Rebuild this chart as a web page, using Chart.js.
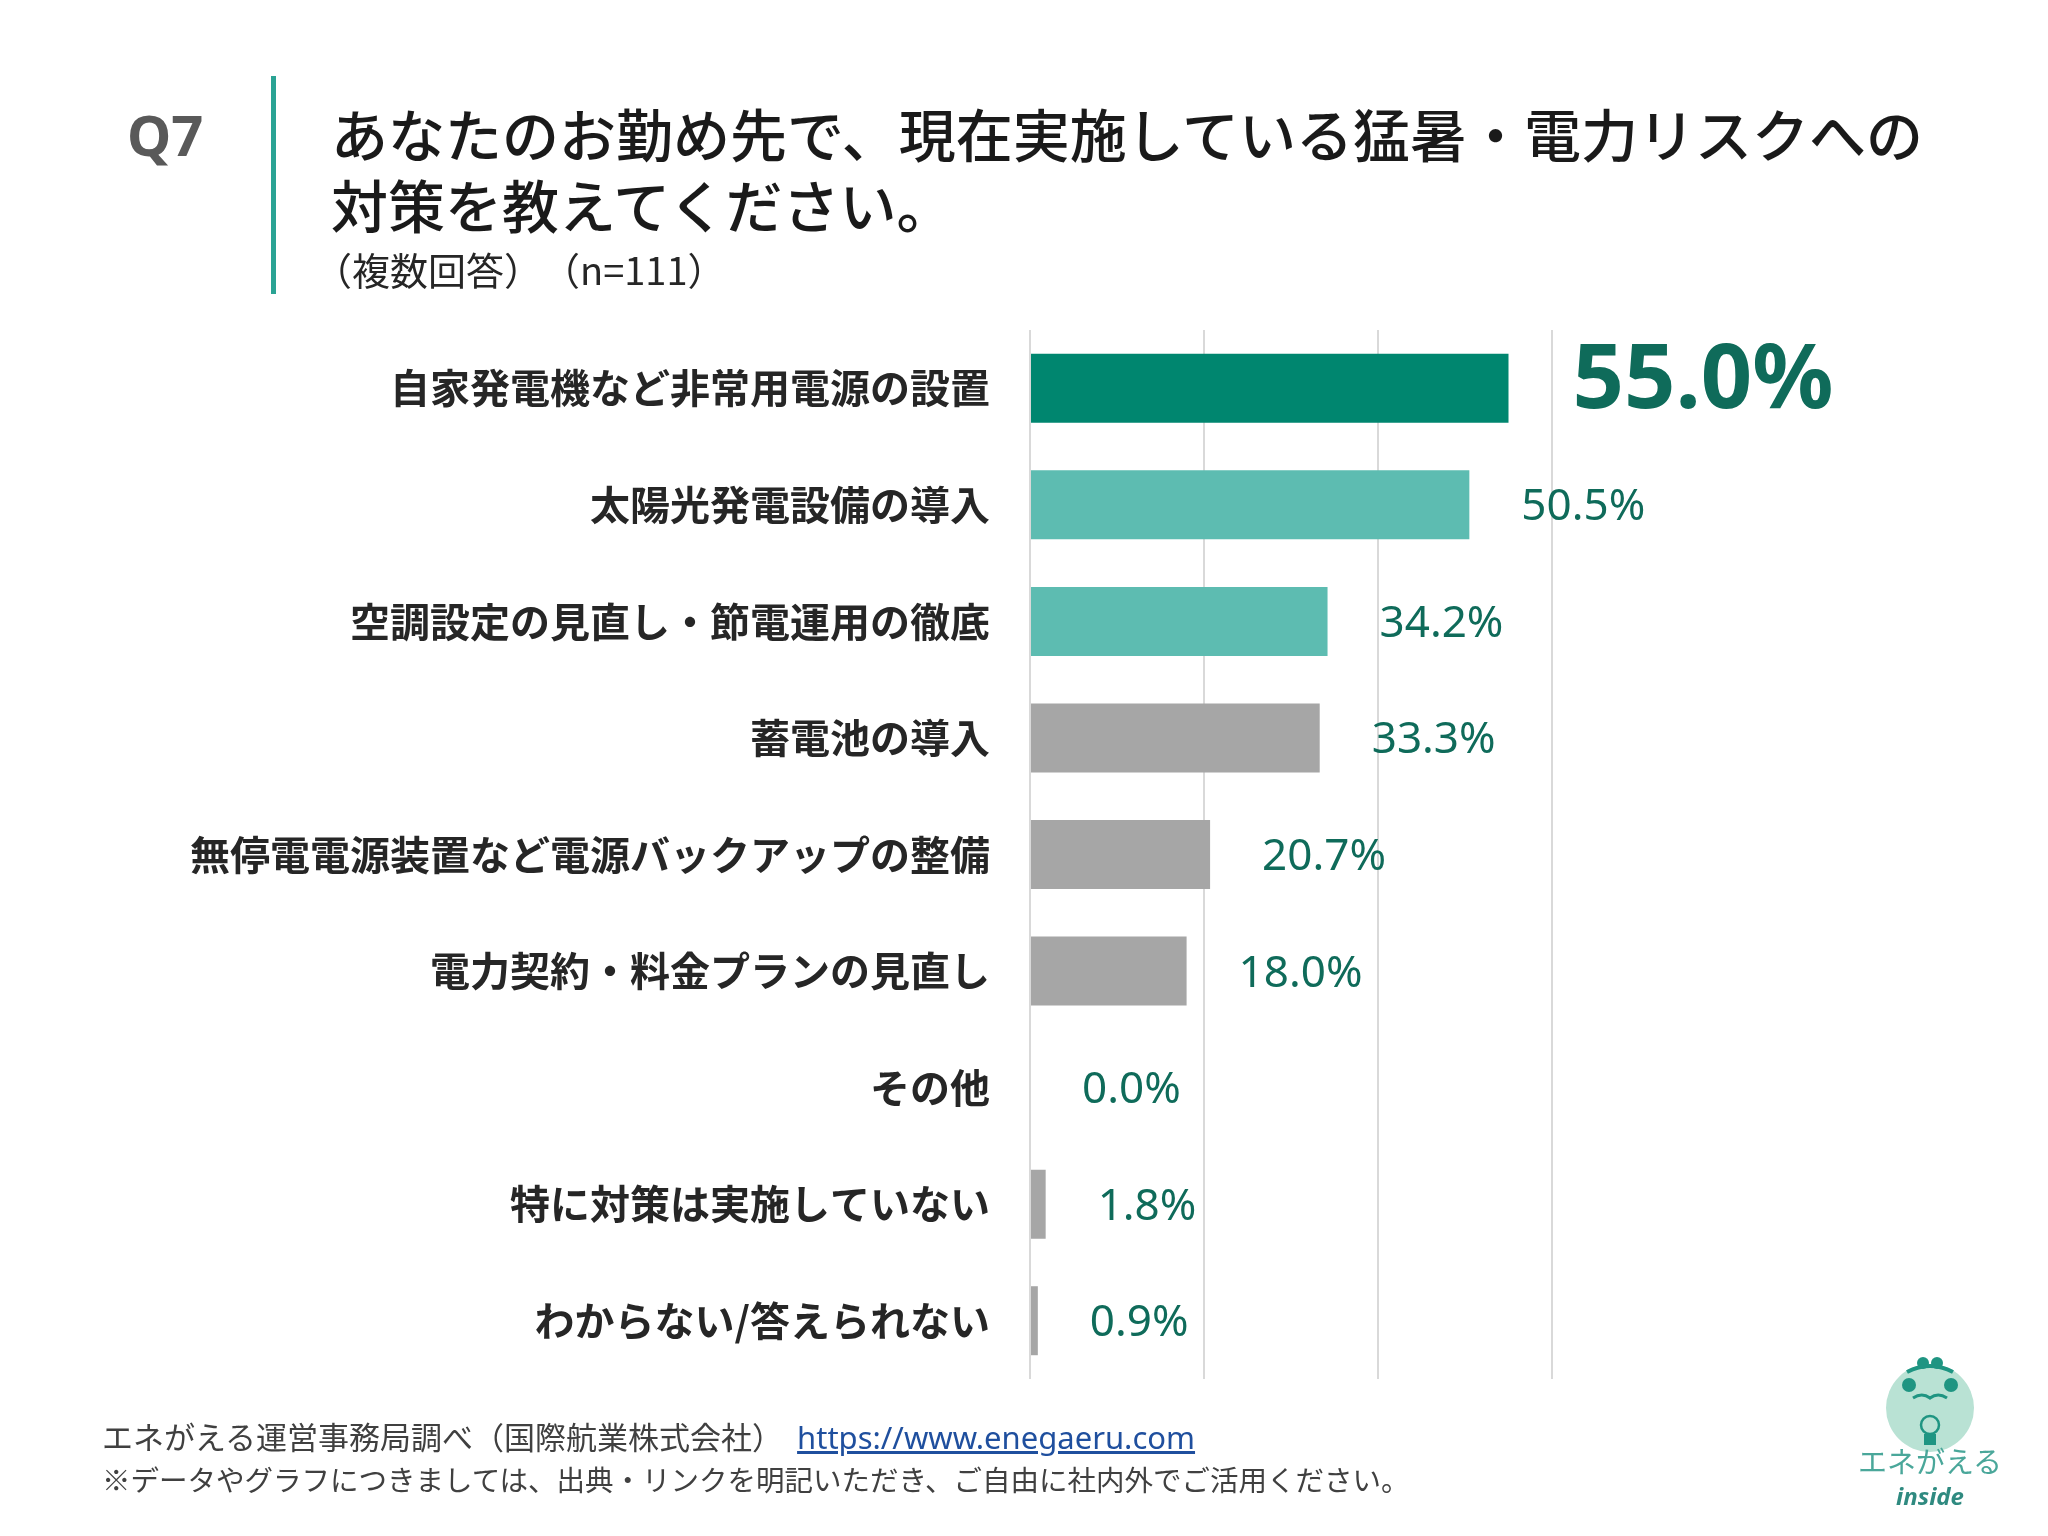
<!DOCTYPE html>
<html lang="ja">
<head>
<meta charset="utf-8">
<title>Q7 猛暑・電力リスクへの対策</title>
<script src="https://cdn.jsdelivr.net/npm/chart.js@4.4.1/dist/chart.umd.min.js"></script>
<style>
    body { margin: 0; background: #ffffff; }
    #page { position: relative; width: 2048px; height: 1536px; background: #ffffff; overflow: hidden;
            font-family: "Noto Sans CJK JP", "Noto Sans", sans-serif; }
    #chart { position: absolute; left: 0; top: 0; }
    .txt { position: absolute; white-space: nowrap; }
    #q { left: 127px; top: 106px; font: 700 56px/56px "Noto Sans", sans-serif; color: #595959; }
    #bar { position: absolute; left: 271px; top: 76px; width: 5px; height: 218px; background: #2aa394; }
    .title { left: 331px; font-size: 57px; line-height: 58px; font-weight: 500; color: #1a1a1a; }
    #t1 { top: 103px; }
    #t2 { top: 174px; }
    #sub { left: 314px; top: 250px; font-size: 38px; line-height: 38px; color: #262626; }
    .foot { left: 102px; color: #404040; }
    #f1 { top: 1420px; font-size: 31px; line-height: 32px; }
    #f1 a { color: #1f4f9e; text-decoration: underline; font-family: "Noto Sans", sans-serif; margin-left: 14px; font-size: 31px; }
    #f2 { top: 1464px; font-size: 28.5px; line-height: 30px; }
    #logo { left: 1845px; top: 1340px; width: 160px; height: 180px; }
</style>
</head>
<body>
<div id="page">
    <canvas id="chart" width="2048" height="1536"></canvas>
    <div class="txt" id="q">Q7</div>
    <div id="bar"></div>
    <div class="txt title" id="t1">あなたのお勤め先で、現在実施している猛暑・電力リスクへの</div>
    <div class="txt title" id="t2">対策を教えてください。</div>
    <div class="txt" id="sub">（複数回答）　（n=111）</div>
    <div class="txt foot" id="f1">エネがえる運営事務局調べ（国際航業株式会社）<a>https://www.enegaeru.com</a></div>
    <div class="txt foot" id="f2">※データやグラフにつきましては、出典・リンクを明記いただき、ご自由に社内外でご活用ください。</div>
    <svg id="logo" class="txt" viewBox="0 0 160 180">
        <circle cx="85" cy="68" r="44" fill="#b9e2d4"/>
        <circle cx="78" cy="23" r="6" fill="#1f9582"/>
        <circle cx="92" cy="23" r="6" fill="#1f9582"/>
        <path d="M62 32 Q85 20 108 32" stroke="#1f9582" stroke-width="4" fill="none"/>
        <circle cx="64" cy="45" r="7" fill="#1f9582"/>
        <circle cx="106" cy="45" r="7" fill="#1f9582"/>
        <path d="M68 58 Q77 52 85 58 Q93 52 102 58" stroke="#1f9582" stroke-width="3" fill="none"/>
        <circle cx="85" cy="85" r="9" fill="none" stroke="#1f9582" stroke-width="2.5"/>
        <rect x="79" y="94" width="12" height="11" fill="#1f9582"/>
        <text x="85" y="133" text-anchor="middle" font-size="29" fill="#4aa79a" font-family="Noto Sans CJK JP">エネがえる</text>
        <text x="85" y="165" text-anchor="middle" font-size="24" font-weight="700" font-style="italic" fill="#2f8a80" font-family="Noto Sans">inside</text>
    </svg>
</div>

<script>
// Survey data (Q7, multiple answers, n=111)
const categories = [
    '自家発電機など非常用電源の設置',
    '太陽光発電設備の導入',
    '空調設定の見直し・節電運用の徹底',
    '蓄電池の導入',
    '無停電電源装置など電源バックアップの整備',
    '電力契約・料金プランの見直し',
    'その他',
    '特に対策は実施していない',
    'わからない/答えられない'
];
const values = [55.0, 50.5, 34.2, 33.3, 20.7, 18.0, 0.0, 1.8, 0.9];
const xTicks = [0, 20, 40, 60];

// Styling
const barColors = ['#00866f', '#5dbcb1', '#5dbcb1', '#a6a6a6', '#a6a6a6', '#a6a6a6', '#a6a6a6', '#a6a6a6', '#a6a6a6'];
const labelColor = '#0f6b5a';

// Draws the percentage next to each bar
const valueLabels = {
    id: 'valueLabels',
    afterDatasetsDraw(chart) {
        const ctx = chart.ctx;
        const meta = chart.getDatasetMeta(0);
        ctx.save();
        ctx.textAlign = 'left';
        ctx.textBaseline = 'middle';
        ctx.fillStyle = labelColor;
        meta.data.forEach((bar, i) => {
            const text = values[i].toFixed(1) + '%';
            if (i === 0) {
                ctx.font = '700 90px "Noto Sans"';
                ctx.fillText(text, bar.x + 64, bar.y - 6);
            } else {
                ctx.font = '400 44px "Noto Sans"';
                ctx.fillText(text, bar.x + 52, bar.y + 3);
            }
        });
        ctx.restore();
    }
};

new Chart(document.getElementById('chart'), {
    type: 'bar',
    data: {
        labels: categories,
        datasets: [{
            data: values,
            backgroundColor: barColors,
            borderWidth: 0,
            categoryPercentage: 1,
            barPercentage: 0.592
        }]
    },
    options: {
        indexAxis: 'y',
        responsive: false,
        devicePixelRatio: 1,
        animation: false,
        layout: {
            padding: { top: 330, bottom: 157, left: 0, right: 496 }
        },
        plugins: {
            legend: { display: false },
            tooltip: { enabled: false }
        },
        scales: {
            x: {
                min: xTicks[0],
                max: xTicks[xTicks.length - 1],
                afterBuildTicks: (scale) => { scale.ticks = xTicks.map(v => ({ value: v })); },
                ticks: { display: false },
                grid: { color: '#d9d9d9', lineWidth: 2, drawTicks: false },
                border: { display: false }
            },
            y: {
                afterFit: (scale) => { scale.width = 1030; },
                ticks: {
                    padding: 40,
                    color: '#262626',
                    font: { family: '"Noto Sans CJK JP"', size: 40, weight: 700 }
                },
                grid: { display: false, drawTicks: false },
                border: { display: false }
            }
        }
    },
    plugins: [valueLabels]
});
</script>
</body>
</html>
